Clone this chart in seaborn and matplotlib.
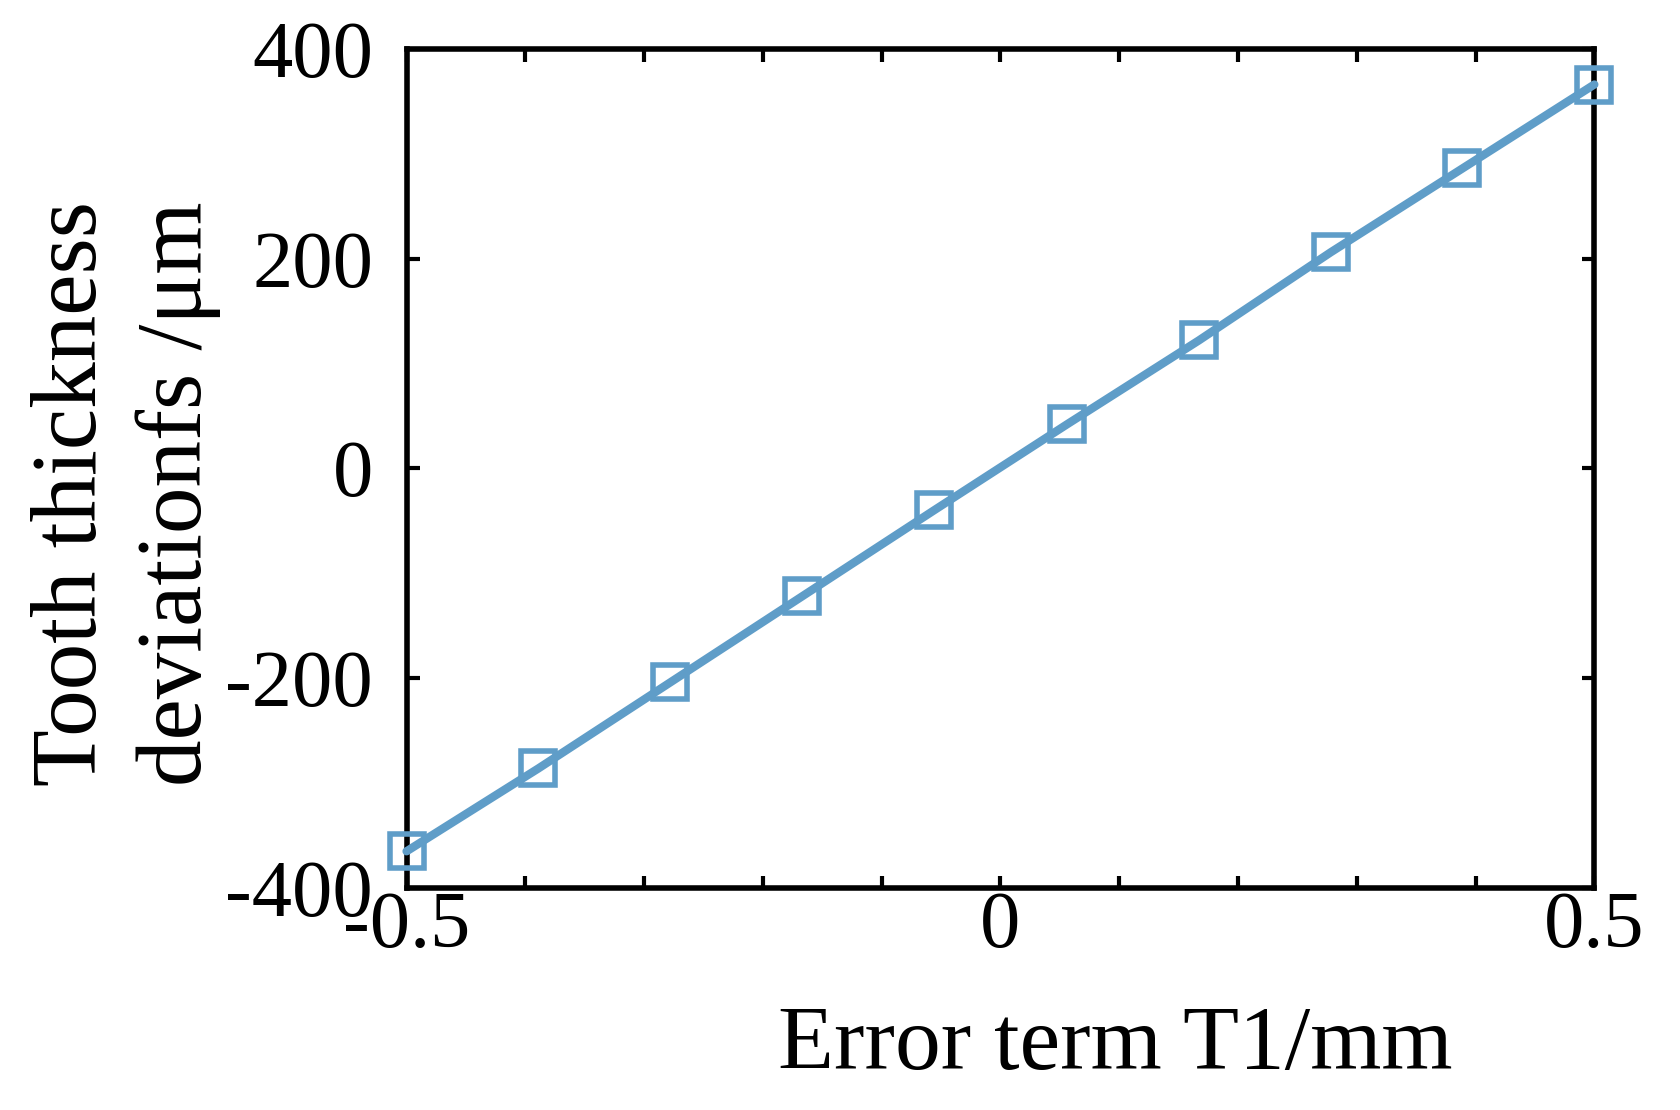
import matplotlib
matplotlib.use('Agg')
import matplotlib.pyplot as plt
import seaborn as sns
from matplotlib.ticker import MultipleLocator

# valeurs
error_t1 = [-0.5, -0.389, -0.278, -0.167, -0.056, 0.056, 0.167, 0.278, 0.389, 0.5]
fs_dev = [-365, -286, -204, -122, -40, 42, 122, 206, 286, 366]
x_ticks = [-0.5, 0, 0.5]
x_tick_labels = ['-0.5', '0', '0.5']
y_ticks = [-400, -200, 0, 200, 400]

line_color = '#5f9dc8'

sns.set_style('ticks')
plt.rcParams['font.family'] = ['Liberation Serif', 'DejaVu Serif']
plt.rcParams['axes.unicode_minus'] = False
plt.rcParams['text.color'] = 'black'
plt.rcParams['axes.labelcolor'] = 'black'
plt.rcParams['xtick.color'] = 'black'
plt.rcParams['ytick.color'] = 'black'

fig = plt.figure(figsize=(16.8, 11.1), dpi=100)
ax = fig.add_axes([0.242, 0.2, 0.707, 0.756])

sns.lineplot(x=error_t1, y=fs_dev, ax=ax, color=line_color, linewidth=6,
             marker='s', markersize=25, markerfacecolor='none',
             markeredgecolor=line_color, markeredgewidth=4,
             clip_on=False, zorder=5)

ax.set_xlim(-0.5, 0.5)
ax.set_ylim(-400, 400)
ax.set_xticks(x_ticks)
ax.set_xticklabels(x_tick_labels)
ax.xaxis.set_minor_locator(MultipleLocator(0.1))
ax.set_yticks(y_ticks)

for s in ax.spines.values():
    s.set_linewidth(4)
    s.set_color('black')
    s.set_visible(True)

ax.tick_params(which='both', direction='in', top=True, right=True,
               length=9, width=3, color='black', labelcolor='black')
ax.tick_params(axis='x', which='major', labelsize=58, pad=2)
ax.tick_params(axis='y', which='major', labelsize=58, pad=24)

ax.set_xlabel('Error term T1/mm', fontsize=66, color='black')
ax.xaxis.set_label_coords(0.597, -0.14)
ax.set_ylabel('Tooth thickness\ndeviationfs /μm', fontsize=67, color='black',
              multialignment='left', linespacing=1.3)
ax.yaxis.set_label_coords(-0.156, 0.47)

fig.savefig('out.png', dpi=100, facecolor='white')
